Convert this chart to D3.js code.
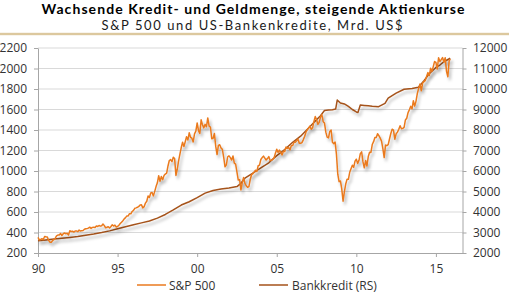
<!DOCTYPE html>
<html><head><meta charset="utf-8">
<script src="https://cdn.jsdelivr.net/npm/d3@7"></script>
<style>
body{margin:0;background:#fff}
svg{display:block;font-family:"Open Sans","Noto Sans",sans-serif}
</style>
</head><body>
<svg id="c" width="509" height="292"></svg>
<script>
const titleText = "Wachsende Kredit- und Geldmenge, steigende Aktienkurse";
const subtitleText = "S&P 500 und US-Bankenkredite, Mrd. US$";
const seriesNames = ["S&P 500", "Bankkredit (RS)"];

const xTickValues = [1990, 1995, 2000, 2005, 2010, 2015];
const xTickLabels = ["90", "95", "00", "05", "10", "15"];
const leftTicks = [200, 400, 600, 800, 1000, 1200, 1400, 1600, 1800, 2000, 2200];
const rightTicks = [2000, 3000, 4000, 5000, 6000, 7000, 8000, 9000, 10000, 11000, 12000];

// S&P 500 monthly, first value = Dec 1989 (plotted at 1990.0), then month-end values
const spStart = 1990.0;
const spValues = [
  353,
  329,332,340,331,361,358,356,323,306,304,322,330,
  344,367,375,375,390,371,388,395,388,392,375,417,
  409,413,404,415,415,408,424,414,418,419,431,436,
  439,443,452,440,450,451,448,464,459,468,462,466,
  482,467,446,451,457,444,458,475,463,472,454,459,
  471,487,501,515,533,545,562,562,584,582,605,616,
  636,640,646,654,669,671,640,652,687,705,757,741,
  786,791,757,801,848,885,954,899,947,915,955,970,
  980,1049,1102,1112,1091,1134,1121,957,1017,1099,1164,1229,
  1280,1238,1286,1335,1302,1373,1329,1320,1283,1363,1389,1469,
  1394,1366,1499,1452,1421,1455,1431,1518,1437,1429,1315,1320,
  1366,1240,1160,1249,1256,1224,1211,1134,1041,1060,1139,1148,
  1130,1107,1147,1076,1067,990,912,916,815,886,936,880,
  856,841,848,917,964,975,990,1008,996,1051,1058,1112,
  1131,1145,1126,1107,1121,1141,1102,1104,1115,1130,1174,1212,
  1181,1204,1181,1157,1192,1191,1234,1220,1229,1207,1249,1248,
  1280,1281,1295,1311,1270,1270,1277,1304,1336,1378,1401,1418,
  1438,1407,1421,1482,1531,1503,1455,1474,1527,1549,1481,1468,
  1379,1331,1323,1386,1400,1280,1267,1283,1165,969,896,903,
  826,705,798,873,919,919,987,1021,1057,1036,1096,1115,
  1074,1104,1169,1187,1089,1031,1102,1049,1141,1183,1181,1258,
  1286,1327,1326,1364,1345,1321,1292,1219,1131,1253,1247,1258,
  1312,1366,1408,1398,1310,1362,1379,1407,1441,1412,1416,1426,
  1498,1515,1569,1598,1631,1606,1686,1633,1682,1757,1806,1848,
  1783,1859,1872,1884,1924,1960,1931,2003,1972,2018,2068,2059,
  1995,2105,2068,2086,2107,2063,2104,1972,1920,2079,2090
];

// Bank credit (right scale), Mrd. US$
const bkDates = [1990.0,1990.5,1991.0,1991.5,1992.0,1992.5,1993.0,1993.5,1994.0,1994.5,
  1995.0,1995.5,1996.0,1996.5,1997.0,1997.5,1998.0,1998.5,1999.0,1999.5,
  2000.0,2000.5,2001.0,2001.5,2002.0,2002.5,2002.75,2003.0,2003.5,2004.0,2004.5,
  2005.0,2005.5,2006.0,2006.5,2007.0,2007.5,2007.75,2008.0,2008.25,2008.5,2008.7,2008.8,
  2009.0,2009.25,2009.5,2009.75,2010.0,2010.1,2010.25,2010.5,2010.75,2011.0,2011.4,2011.8,
  2012.0,2012.5,2013.0,2013.5,2013.9,2014.25,2014.6,2015.0,2015.25,2015.5,2015.9];
const bkValues = [2600,2640,2680,2720,2760,2800,2870,2930,3000,3080,
  3180,3280,3380,3470,3560,3700,3880,4100,4340,4500,
  4700,4920,5050,5120,5170,5240,5400,5650,5900,6150,6400,
  6750,7050,7400,7700,8100,8500,8700,8950,8970,8990,9020,9460,
  9320,9270,9150,9000,8880,8850,9220,9200,9180,9160,9140,9300,
  9550,9800,9990,10030,10080,10400,10760,11050,11170,11330,11500];

const spColor = "#ea7a1f", bkColor = "#a5521a";

const svg = d3.select("#c");
const x = d3.scaleLinear().domain([1990, 2016.67]).range([38, 462.5]);
const yL = d3.scaleLinear().domain([200, 2200]).range([253, 48]);
const yR = d3.scaleLinear().domain([2000, 12000]).range([253, 48]);

// titles
svg.append("text").attr("x", 253).attr("y", 13.9).attr("text-anchor", "middle")
  .attr("font-family", "Lato, 'Open Sans', sans-serif")
  .attr("font-size", 14).attr("font-weight", "bold").attr("fill", "#000")
  .attr("textLength", 423).attr("lengthAdjust", "spacing").text(titleText);
svg.append("text").attr("x", 252).attr("y", 29.8).attr("text-anchor", "middle")
  .attr("font-family", "Lato, 'Open Sans', sans-serif")
  .attr("font-size", 13).attr("fill", "#1a1a1a")
  .attr("textLength", 301).attr("lengthAdjust", "spacing").text(subtitleText);
svg.append("rect").attr("x", 0).attr("y", 32.8).attr("width", 509).attr("height", 2.4).attr("fill", "#dcc89e");

// shadow filter
const defs = svg.append("defs");
const f = defs.append("filter").attr("id", "sh").attr("x", "-5%").attr("y", "-5%").attr("width", "110%").attr("height", "120%");
f.append("feDropShadow").attr("dx", 2).attr("dy", 3).attr("stdDeviation", 1.6)
  .attr("flood-color", "#000").attr("flood-opacity", 0.28);

// gridlines
svg.append("g").selectAll("line").data(leftTicks.slice(1)).join("line")
  .attr("x1", 38).attr("x2", 462.5).attr("y1", d => yL(d)).attr("y2", d => yL(d))
  .attr("stroke", "#d9d9d9").attr("stroke-width", 1);

function styleAxis(g) {
  g.selectAll("path.domain").attr("stroke", "#a6a6a6");
  g.selectAll(".tick line").attr("stroke", "#a6a6a6");
  g.selectAll(".tick text").attr("fill", "#333").attr("font-size", 12)
    .attr("font-family", '"Open Sans","Noto Sans",sans-serif');
}

const gL = svg.append("g").attr("transform", "translate(38,0)")
  .call(d3.axisLeft(yL).tickValues(leftTicks).tickSize(4).tickSizeOuter(0).tickPadding(7).tickFormat(d3.format("d")));
styleAxis(gL);
const gR = svg.append("g").attr("transform", "translate(462.5,0)")
  .call(d3.axisRight(yR).tickValues(rightTicks).tickSize(4).tickSizeOuter(0).tickPadding(6.5).tickFormat(d3.format("d")));
styleAxis(gR);
const gB = svg.append("g").attr("transform", "translate(0,253)")
  .call(d3.axisBottom(x).tickValues(xTickValues).tickSize(4).tickSizeOuter(0).tickPadding(7)
    .tickFormat((d, i) => xTickLabels[i]));
styleAxis(gB);

// series
const spData = spValues.map((v, i) => ({ t: spStart + i / 12, v }));
const bkData = bkDates.map((t, i) => ({ t, v: bkValues[i] }));

svg.append("path").datum(bkData).attr("fill", "none").attr("stroke", bkColor)
  .attr("stroke-width", 1.5).attr("stroke-linejoin", "round").attr("filter", "url(#sh)")
  .attr("d", d3.line().x(d => x(d.t)).y(d => yR(d.v)));
svg.append("path").datum(spData).attr("fill", "none").attr("stroke", spColor)
  .attr("stroke-width", 1.5).attr("stroke-linejoin", "round").attr("filter", "url(#sh)")
  .attr("d", d3.line().x(d => x(d.t)).y(d => yL(d.v)));

// legend
const legend = [
  { name: seriesNames[0], color: spColor, x1: 137, x2: 166, tx: 169 },
  { name: seriesNames[1], color: bkColor, x1: 259, x2: 288, tx: 292 }
];
const lg = svg.append("g");
legend.forEach(l => {
  lg.append("line").attr("x1", l.x1).attr("x2", l.x2).attr("y1", 285).attr("y2", 285)
    .attr("stroke", l.color).attr("stroke-width", 1.5);
  lg.append("text").attr("x", l.tx).attr("y", 289.5).attr("font-size", 12).attr("fill", "#333").text(l.name);
});
</script>
</body></html>
